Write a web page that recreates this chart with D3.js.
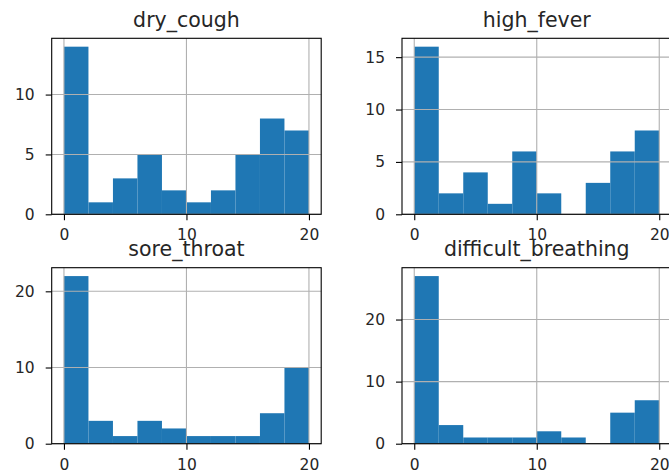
<!doctype html>
<html lang="en">
<head>
    <meta charset="utf-8">
    <script src="https://d3js.org/d3.v7.min.js"></script>
    <style>
        body { margin: 0; background: #fff; }
        svg text { font-family: "DejaVu Sans", sans-serif; fill: #262626; }
    </style>
</head>
<body>
<script>
    // Histogram counts, 10 bins of width 2 from 0 to 20
    const binEdges = [0, 2, 4, 6, 8, 10, 12, 14, 16, 18, 20];
    const dryCough           = [14, 1, 3, 5, 2, 1, 2, 5, 8, 7];
    const highFever          = [16, 2, 4, 1, 6, 2, 0, 3, 6, 8];
    const soreThroat         = [22, 3, 1, 3, 2, 1, 1, 1, 4, 10];
    const difficultBreathing = [27, 3, 1, 1, 1, 2, 1, 0, 5, 7];

    const titles = ["dry_cough", "high_fever", "sore_throat", "difficult_breathing"];
    const xTicks = [0, 10, 20];
    const yTicks = [[0, 5, 10], [0, 5, 10, 15], [0, 10, 20], [0, 10, 20]];

    // Set Dimensions
    const width = 669, height = 476;
    const colLeft = [51.7, 402];
    const rowTop  = [38.3, 267.7];
    const pw = 269.5, ph = 176;

    const svg = d3.select("body").append("svg")
        .attr("width", width)
        .attr("height", height);

    const series = [dryCough, highFever, soreThroat, difficultBreathing];

    series.forEach(function(counts, i) {
        const left = colLeft[i % 2];
        const top  = rowTop[Math.floor(i / 2)];

        const x = d3.scaleLinear().domain([-1, 21]).range([0, pw]);
        const y = d3.scaleLinear().domain([0, d3.max(counts) * 1.05]).range([ph, 0]);

        const g = svg.append("g").attr("transform", `translate(${left},${top})`);

        const bins = counts.map(function(c, j) { return { x0: binEdges[j], x1: binEdges[j + 1], c: c }; });

        // bars
        g.selectAll("rect.bar")
            .data(bins)
            .enter()
            .append("rect")
            .attr("class", "bar")
            .attr("x", function(d) { return x(d.x0); })
            .attr("width", function(d) { return x(d.x1) - x(d.x0); })
            .attr("y", function(d) { return y(d.c); })
            .attr("height", function(d) { return ph - y(d.c); })
            .attr("fill", "#1f77b4");

        // grid lines (drawn over the bars like matplotlib)
        g.selectAll("line.vgrid")
            .data(xTicks)
            .enter()
            .append("line")
            .attr("x1", function(d) { return x(d); })
            .attr("x2", function(d) { return x(d); })
            .attr("y1", 0).attr("y2", ph)
            .attr("stroke", "#b0b0b0").attr("stroke-width", 1.1);
        g.selectAll("line.hgrid")
            .data(yTicks[i])
            .enter()
            .append("line")
            .attr("x1", 0).attr("x2", pw)
            .attr("y1", function(d) { return y(d); })
            .attr("y2", function(d) { return y(d); })
            .attr("stroke", "#b0b0b0").attr("stroke-width", 1.1);

        // bottom axis
        const xAxis = g.append("g")
            .attr("transform", `translate(0,${ph})`)
            .call(d3.axisBottom(x).tickValues(xTicks).tickSize(6).tickPadding(9).tickFormat(d3.format("d")));
        // left axis
        const yAxis = g.append("g")
            .call(d3.axisLeft(y).tickValues(yTicks[i]).tickSize(6).tickPadding(11).tickFormat(d3.format("d")));

        [xAxis, yAxis].forEach(function(a) {
            a.select(".domain").remove();
            a.selectAll(".tick line").attr("stroke", "#000").attr("stroke-width", 1.1);
            a.selectAll(".tick text").attr("font-size", 15.5).attr("fill", "#262626")
                .attr("font-family", "DejaVu Sans");
        });

        // frame
        g.append("rect")
            .attr("width", pw).attr("height", ph)
            .attr("fill", "none")
            .attr("stroke", "#000").attr("stroke-width", 1.1);

        // title
        g.append("text")
            .attr("x", pw / 2)
            .attr("y", -11.5)
            .attr("text-anchor", "middle")
            .attr("font-size", 20.5)
            .text(titles[i]);
    });
</script>
</body>
</html>
